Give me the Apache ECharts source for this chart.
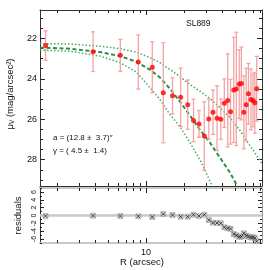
<!DOCTYPE html>
<html><head><meta charset="utf-8">
<script src="https://cdn.jsdelivr.net/npm/echarts@6/dist/echarts.min.js"></script>
<style>html,body{margin:0;padding:0;background:#fff}#c{width:270px;height:270px}</style>
</head><body><div id="c"></div>
<script>
// ---- data ----
const radius = [1.62, 3.83, 6.28, 8.70, 11.21, 13.68, 16.17, 18.76, 21.30, 23.66, 26.14, 28.77, 31.22, 33.70, 36.23, 38.81, 41.36, 44.0, 46.29, 49.05, 51.4, 54.2, 56.3, 58.9, 61.5, 64.1, 67.1, 69.6, 71.9, 74.4];
const mu = [22.36, 22.66, 22.84, 23.17, 23.43, 24.69, 24.84, 24.91, 25.28, 26.06, 26.23, 26.83, 25.99, 25.65, 25.95, 26.0, 25.21, 25.07, 25.63, 24.55, 24.5, 24.26, 24.23, 25.66, 25.28, 24.74, 25.02, 25.07, 25.19, 24.49];
const muErr = [0.73, 0.98, 0.79, 1.34, 1.26, 2.47, 0.89, 1.44, 1.22, 1.05, 0.66, 1.69, 0.99, 1.1, 1.6, 1.0, 1.2, 2.3, 1.6, 2.6, 2.8, 1.7, 1.8, 1.8, 1.8, 1.5, 1.5, 1.3, 1.5, 1.6];
const residuals = [-0.13, -0.05, -0.13, -0.2, -0.38, 0.38, 0.13, -0.3, -0.3, 0.2, -0.13, 0.2, -1.15, -1.83, -1.9, -1.98, -3.0, -3.26, -3.4, -4.7, -5.04, -5.4, -5.4, -4.53, -5.14, -5.4, -5.55, -5.55, -5.73, -6.56];

const fitR  = [1.464, 2.52, 4.34, 6.24, 8.34, 10.75, 12.89, 15.45, 18.52, 22.21, 26.62, 31.91, 38.26, 45.86, 52.06];
const fitMu = [22.46, 22.51, 22.68, 22.88, 23.15, 23.55, 23.94, 24.49, 25.13, 25.82, 26.53, 27.16, 27.90, 28.64, 29.27];
const loR   = [1.464, 2.52, 4.34, 6.24, 8.34, 10.75, 12.89, 15.45, 18.52, 22.21, 26.62, 33.09];
const loMu  = [22.58, 22.64, 22.88, 23.20, 23.65, 24.44, 25.03, 25.77, 26.37, 27.16, 28.0, 29.28];
const hiR   = [1.464, 2.52, 4.34, 6.24, 8.34, 10.75, 12.89, 15.45, 18.52, 22.21, 26.62, 31.91, 38.26, 45.86, 54.98, 65.9, 76.2, 81.9];
const hiMu  = [22.26, 22.28, 22.39, 22.51, 22.68, 22.95, 23.20, 23.55, 23.89, 24.29, 24.61, 24.98, 25.43, 25.92, 26.56, 27.31, 27.90, 28.2];

const rTicksMajor = [10];
const rTicksMinor = [2, 3, 4, 5, 6, 7, 8, 9, 20, 30, 40, 50, 60, 70, 80];
const rLabels = [10];
const muTicksMajor = [22, 24, 26, 28];
const muTicksMinor = [21, 21.5, 22.5, 23, 23.5, 24.5, 25, 25.5, 26.5, 27, 27.5, 28.5, 29];
const resTicksMajor = [-6, -4, -2, 0, 2, 4, 6];
const resTicksMinor = [-7, -5, -3, -1, 1, 3, 5, 7];

const titleText = 'SL889';
const annotA = 'a = (12.8 \u00b1  3.7)\u2033';
const annotG = '\u03b3 = ( 4.5 \u00b1  1.4)';

// ---- chart ----
const FONT = '"Liberation Sans", Arial, Helvetica, sans-serif';
const R_MIN = 1.464, R_MAX = 81.9;
const MU_MIN = 20.6, MU_MAX = 29.3;
const RES_MIN = -7, RES_MAX = 7;

const noLine = {show: false, onZero: false};
function xAx(grid, pos, ticks, len, opt) {
  return Object.assign({
    type: 'log', logBase: 10, gridIndex: grid, position: pos, min: R_MIN, max: R_MAX,
    axisLine: noLine,
    axisTick: {show: true, inside: true, length: len, customValues: ticks, lineStyle: {color: '#222', width: 1}},
    axisLabel: {show: false}, splitLine: {show: false}, minorTick: {show: false}
  }, opt || {});
}
function yAx(grid, pos, min, max, inverse, ticks, len, opt) {
  return Object.assign({
    type: 'value', gridIndex: grid, position: pos, min: min, max: max, inverse: inverse,
    axisLine: noLine,
    axisTick: {show: true, inside: true, length: len, customValues: ticks, lineStyle: {color: '#222', width: 1}},
    axisLabel: {show: false}, splitLine: {show: false}
  }, opt || {});
}
const blackLine = {show: true, onZero: false, lineStyle: {color: '#333', width: 1}};
const grayLine = {show: true, onZero: false, lineStyle: {color: '#c8c8c8', width: 2}};

const option = {
  animation: false,
  backgroundColor: '#fff',
  grid: [
    {left: 40, top: 10, width: 222, height: 176, outerBoundsMode: 'none', containLabel: false},
    {left: 40, top: 188, width: 222, height: 55, outerBoundsMode: 'none', containLabel: false}
  ],
  xAxis: [
    xAx(0, 'bottom', rTicksMajor, 5, {axisLine: blackLine}),
    xAx(0, 'bottom', rTicksMinor, 3),
    xAx(0, 'top', rTicksMajor, 5, {axisLine: blackLine}),
    xAx(0, 'top', rTicksMinor, 3),
    xAx(1, 'bottom', rTicksMajor, 5, {axisLine: grayLine,
      axisLabel: {show: true, customValues: rLabels, fontSize: 9, color: '#111', fontFamily: FONT, margin: 5}}),
    xAx(1, 'bottom', rTicksMinor, 3),
    xAx(1, 'top', rTicksMajor, 5, {axisLine: grayLine}),
    xAx(1, 'top', rTicksMinor, 3)
  ],
  yAxis: [
    yAx(0, 'left', MU_MIN, MU_MAX, true, muTicksMajor, 5, {axisLine: blackLine,
      axisLabel: {show: true, customValues: muTicksMajor, fontSize: 9, color: '#111', fontFamily: FONT, margin: 3},
      name: '{m|\u03bc}{s|V} (mag/arcsec\u00b2)', nameLocation: 'middle', nameGap: 16, nameRotate: 90,
      nameTextStyle: {fontSize: 9.5, color: '#111', fontFamily: FONT, padding: [0, 0, 0, 8],
        rich: {m: {fontSize: 9.5, fontFamily: FONT, color: '#111'}, s: {fontSize: 6.5, fontFamily: FONT, color: '#111', padding: [4, 0, 0, 0]}}}}),
    yAx(0, 'left', MU_MIN, MU_MAX, true, muTicksMinor, 3),
    yAx(0, 'right', MU_MIN, MU_MAX, true, muTicksMajor, 5, {axisLine: blackLine}),
    yAx(0, 'right', MU_MIN, MU_MAX, true, muTicksMinor, 3),
    yAx(1, 'left', RES_MIN, RES_MAX, false, resTicksMajor, 4, {axisLine: blackLine,
      axisLabel: {show: true, customValues: resTicksMajor, fontSize: 7, color: '#111', fontFamily: FONT, margin: 2, rotate: 90},
      name: 'residuals', nameLocation: 'middle', nameGap: 13, nameRotate: 90,
      nameTextStyle: {fontSize: 9.5, color: '#111', fontFamily: FONT}}),
    yAx(1, 'left', RES_MIN, RES_MAX, false, resTicksMinor, 2),
    yAx(1, 'right', RES_MIN, RES_MAX, false, resTicksMajor, 4, {axisLine: {show: true, onZero: false, lineStyle: {color: '#999', width: 1}}}),
    yAx(1, 'right', RES_MIN, RES_MAX, false, resTicksMinor, 2)
  ],
  graphic: [
    {type: 'text', left: 186, top: 19, style: {text: titleText, font: '8.5px ' + FONT, fill: '#111'}},
    {type: 'text', left: 53, top: 134, style: {text: annotA, font: '8px ' + FONT, fill: '#111'}},
    {type: 'text', left: 53, top: 147, style: {text: annotG, font: '8px ' + FONT, fill: '#111'}},
    {type: 'text', x: 142, y: 262.5, style: {text: 'R (arcsec)', font: '9.5px ' + FONT, fill: '#111', align: 'center', verticalAlign: 'middle'}}
  ],
  series: [
    {type: 'line', xAxisIndex: 0, yAxisIndex: 0, data: hiR.map((r, i) => [r, hiMu[i]]), showSymbol: false, z: 2,
      lineStyle: {color: '#44aa5c', width: 1.5, type: [1.5, 2]}},
    {type: 'line', xAxisIndex: 0, yAxisIndex: 0, data: loR.map((r, i) => [r, loMu[i]]), showSymbol: false, z: 2,
      lineStyle: {color: '#44aa5c', width: 1.5, type: [1.5, 2]}},
    {type: 'line', xAxisIndex: 0, yAxisIndex: 0, data: fitR.map((r, i) => [r, fitMu[i]]), showSymbol: false, z: 2,
      lineStyle: {color: '#2a8f45', width: 2, type: [4, 2.5]}},
    {type: 'custom', xAxisIndex: 0, yAxisIndex: 0, z: 3,
      data: radius.map((r, i) => [r, mu[i], muErr[i]]),
      renderItem: function (params, api) {
        const r = api.value(0), m = api.value(1), e = api.value(2);
        const a = api.coord([r, m - e]), b = api.coord([r, m + e]);
        const st = {stroke: '#f5a3a3', lineWidth: 1.3};
        return {type: 'group', children: [
          {type: 'line', shape: {x1: a[0], y1: a[1], x2: b[0], y2: b[1]}, style: st},
          {type: 'line', shape: {x1: a[0] - 2, y1: a[1], x2: a[0] + 2, y2: a[1]}, style: st},
          {type: 'line', shape: {x1: b[0] - 2, y1: b[1], x2: b[0] + 2, y2: b[1]}, style: st}
        ]};
      }},
    {type: 'scatter', xAxisIndex: 0, yAxisIndex: 0, z: 4, symbol: 'circle', symbolSize: 5,
      data: radius.map((r, i) => [r, mu[i]]), itemStyle: {color: '#ff0000'}},
    {type: 'scatter', xAxisIndex: 4, yAxisIndex: 4, z: 3, symbol: 'rect', symbolSize: 5,
      data: radius.map((r, i) => [r, residuals[i]]), itemStyle: {color: '#d0d0d0', borderColor: '#888', borderWidth: 0.6},
      markLine: {silent: true, symbol: 'none', label: {show: false}, z: 1,
        lineStyle: {color: '#c8c8c8', width: 2.5, type: 'solid'}, data: [{yAxis: 0}]}},
    {type: 'scatter', xAxisIndex: 4, yAxisIndex: 4, z: 5, symbol: 'path://M0,0L10,10M10,0L0,10', symbolSize: 3.5,
      data: radius.map((r, i) => [r, residuals[i]]), itemStyle: {color: 'transparent', borderColor: '#111', borderWidth: 0.9}}
  ]
};
const chart = echarts.init(document.getElementById('c'), null, {renderer: 'canvas'});
chart.setOption(option);
</script>
</body></html>
